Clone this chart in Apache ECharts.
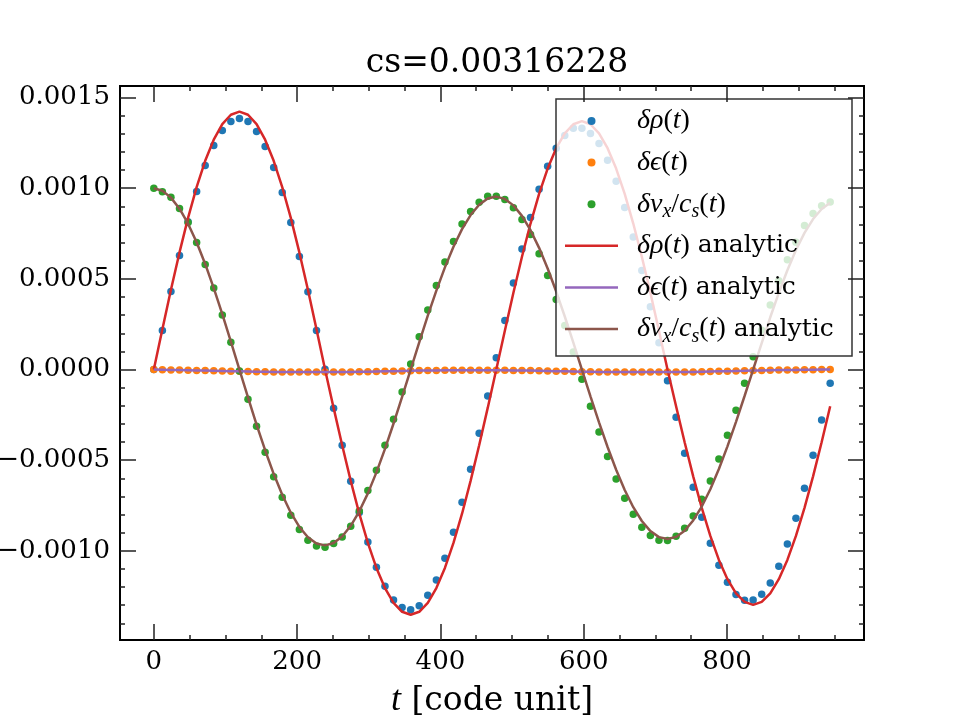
<!DOCTYPE html>
<html>
<head>
<meta charset="utf-8">
<script src="https://cdn.jsdelivr.net/npm/echarts@6/dist/echarts.min.js"></script>
<style>
html, body { margin: 0; padding: 0; background: #fff; }
#chart { width: 960px; height: 720px; }
</style>
</head>
<body>
<div id="chart"></div>
<script>
// time of each snapshot [code unit]
var tVals = [0, 11.95, 23.9, 35.85, 47.8, 59.75, 71.7, 83.65, 95.6, 107.55,
    119.5, 131.45, 143.4, 155.35, 167.3, 179.25, 191.2, 203.15, 215.1, 227.05,
    239, 250.95, 262.9, 274.85, 286.8, 298.75, 310.7, 322.65, 334.6, 346.55,
    358.5, 370.45, 382.4, 394.35, 406.3, 418.25, 430.2, 442.15, 454.1, 466.05,
    478, 489.95, 501.9, 513.85, 525.8, 537.75, 549.7, 561.65, 573.6, 585.55,
    597.5, 609.45, 621.4, 633.35, 645.3, 657.25, 669.2, 681.15, 693.1, 705.05,
    717, 728.95, 740.9, 752.85, 764.8, 776.75, 788.7, 800.65, 812.6, 824.55,
    836.5, 848.45, 860.4, 872.35, 884.3, 896.25, 908.2, 920.15, 932.1, 944.05];

// simulation
var rhoSim = [0, 0.0002159, 0.0004309, 0.0006294, 0.000815, 0.0009822, 0.0011255, 0.0012358, 0.0013185, 0.0013681,
    0.0013846, 0.0013681, 0.0013129, 0.0012303, 0.0011145, 0.0009767, 0.0008113, 0.0006239, 0.0004291, 0.0002159,
    0.0000015, -0.0002141, -0.000418, -0.0006165, -0.0007892, -0.0009509, -0.0010906, -0.0011953, -0.0012707, -0.0013129,
    -0.0013258, -0.0013037, -0.0012449, -0.0011604, -0.001041, -0.0008977, -0.0007323, -0.0005503, -0.0003519, -0.0001461,
    0.0000652, 0.0002711, 0.0004769, 0.0006643, 0.0008389, 0.000995, 0.0011218, 0.0012211, 0.0012909, 0.0013313,
    0.0013313, 0.0013019, 0.0012468, 0.0011549, 0.0010391, 0.000894, 0.0007304, 0.0005467, 0.0003464, 0.0001479,
    -0.0000616, -0.0002637, -0.0004621, -0.0006496, -0.000815, -0.0009583, -0.0010796, -0.0011733, -0.0012413, -0.0012725,
    -0.0012707, -0.0012394, -0.001177, -0.0010851, -0.000962, -0.0008205, -0.0006551, -0.0004732, -0.0002784, -0.0000762];

var epsSim = [0, -0.000001, -0.000002, -0.000003, -0.000004, -0.000005, -0.000006, -0.000007, -0.000008, -0.000009,
    -0.00001, -0.000011, -0.000012, -0.000012, -0.000013, -0.000013, -0.000014, -0.000014, -0.000014, -0.000014,
    -0.000014, -0.000014, -0.000013, -0.000013, -0.000012, -0.000012, -0.000011, -0.00001, -0.000009, -0.000008,
    -0.000007, -0.000006, -0.000005, -0.000005, -0.000004, -0.000004, -0.000004, -0.000004, -0.000004, -0.000004,
    -0.000004, -0.000004, -0.000005, -0.000005, -0.000006, -0.000007, -0.000008, -0.000009, -0.00001, -0.000011,
    -0.000012, -0.000012, -0.000013, -0.000013, -0.000014, -0.000014, -0.000014, -0.000014, -0.000014, -0.000014,
    -0.000014, -0.000014, -0.000013, -0.000013, -0.000012, -0.000011, -0.00001, -0.000009, -0.000008, -0.000007,
    -0.000006, -0.000005, -0.000004, -0.000003, -0.000002, -0.000002, -0.000001, -0.000001, 0, 0];

var vxSim = [0.001, 0.0009803, 0.0009509, 0.0008885, 0.0008113, 0.000701, 0.0005798, 0.0004493, 0.0003004, 0.0001498,
    -0.0000083, -0.0001645, -0.0003133, -0.0004566, -0.0005908, -0.0007047, -0.0008039, -0.000883, -0.0009417, -0.000973,
    -0.0009803, -0.0009601, -0.0009234, -0.0008646, -0.00078, -0.000667, -0.0005559, -0.000418, -0.0002747, -0.000124,
    0.000031, 0.000181, 0.000328, 0.000464, 0.0005926, 0.0007065, 0.0008021, 0.0008719, 0.0009234, 0.0009565,
    0.0009565, 0.0009381, 0.0008921, 0.0008278, 0.0007451, 0.0006385, 0.0005191, 0.0003868, 0.0002435, 0.0000965,
    -0.0000542, -0.000203, -0.0003445, -0.0004796, -0.0006036, -0.0007102, -0.0007984, -0.0008701, -0.000916, -0.0009417,
    -0.0009436, -0.0009197, -0.0008756, -0.0008076, -0.0007157, -0.0006147, -0.0004934, -0.0003629, -0.0002251, -0.0000762,
    0.0000707, 0.000216, 0.0003556, 0.00049, 0.000605, 0.000702, 0.000794, 0.00086, 0.000904, 0.0009243];

// analytic
var rhoAna = [0, 0.0002226, 0.0004397, 0.000646, 0.0008364, 0.0010062, 0.0011512, 0.0012679, 0.0013534, 0.0014055,
    0.001423, 0.0014055, 0.0013534, 0.0012679, 0.0011512, 0.0010062, 0.0008364, 0.000646, 0.0004397, 0.0002226,
    0, -0.0002117, -0.0004181, -0.0006142, -0.0007953, -0.0009567, -0.0010946, -0.0012055, -0.0012868, -0.0013363,
    -0.001353, -0.0013363, -0.0012868, -0.0012055, -0.0010946, -0.0009567, -0.0007953, -0.0006142, -0.0004181, -0.0002117,
    0, 0.0002143, 0.0004234, 0.000622, 0.0008053, 0.0009687, 0.0011084, 0.0012207, 0.001303, 0.0013531,
    0.00137, 0.0013531, 0.001303, 0.0012207, 0.0011084, 0.0009687, 0.0008053, 0.000622, 0.0004234, 0.0002143,
    0, -0.000203, -0.0004011, -0.0005893, -0.000763, -0.0009178, -0.0010501, -0.0011565, -0.0012345, -0.001282,
    -0.001298, -0.001282, -0.0012345, -0.0011565, -0.0010501, -0.0009178, -0.000763, -0.0005893, -0.0004011, -0.000203];

var epsAna = [0, -0.000001, -0.000002, -0.000003, -0.000004, -0.000005, -0.000006, -0.000007, -0.000008, -0.000009,
    -0.00001, -0.000011, -0.000012, -0.000012, -0.000013, -0.000013, -0.000014, -0.000014, -0.000014, -0.000014,
    -0.000014, -0.000014, -0.000013, -0.000013, -0.000012, -0.000012, -0.000011, -0.00001, -0.000009, -0.000008,
    -0.000007, -0.000006, -0.000005, -0.000005, -0.000004, -0.000004, -0.000004, -0.000004, -0.000004, -0.000004,
    -0.000004, -0.000004, -0.000005, -0.000005, -0.000006, -0.000007, -0.000008, -0.000009, -0.00001, -0.000011,
    -0.000012, -0.000012, -0.000013, -0.000013, -0.000014, -0.000014, -0.000014, -0.000014, -0.000014, -0.000014,
    -0.000014, -0.000014, -0.000013, -0.000013, -0.000012, -0.000011, -0.00001, -0.000009, -0.000008, -0.000007,
    -0.000006, -0.000005, -0.000004, -0.000003, -0.000002, -0.000002, -0.000001, -0.000001, 0, 0];

var vxAna = [0.001, 0.0009862, 0.0009482, 0.000887, 0.0008042, 0.0007018, 0.0005825, 0.0004492, 0.0003053, 0.0001543,
    0, -0.0001539, -0.0003035, -0.0004451, -0.0005754, -0.0006912, -0.0007896, -0.0008683, -0.0009254, -0.0009595,
    -0.00097, -0.0009573, -0.000921, -0.0008621, -0.0007822, -0.0006831, -0.0005673, -0.0004378, -0.0002978, -0.0001506,
    0, 0.0001504, 0.0002968, 0.0004356, 0.0005636, 0.0006774, 0.0007744, 0.0008522, 0.0009088, 0.000943,
    0.000954, 0.0009413, 0.0009055, 0.0008475, 0.0007687, 0.0006712, 0.0005574, 0.0004301, 0.0002925, 0.0001479,
    0, -0.0001476, -0.0002913, -0.0004275, -0.0005529, -0.0006645, -0.0007595, -0.0008356, -0.0008911, -0.0009244,
    -0.000935, -0.0009233, -0.0008889, -0.0008326, -0.0007558, -0.0006604, -0.0005489, -0.0004238, -0.0002884, -0.000146,
    0, 0.0001459, 0.0002882, 0.0004233, 0.0005479, 0.000659, 0.0007538, 0.0008301, 0.0008858, 0.0009197];

var xMajor = [0, 200, 400, 600, 800];
var xMinor = [50, 100, 150, 250, 300, 350, 450, 500, 550, 650, 700, 750, 850, 900, 950];
var yMajor = [-0.001, -0.0005, 0, 0.0005, 0.001, 0.0015];
var yMinor = [-0.0014, -0.0013, -0.0012, -0.0011, -0.0009, -0.0008, -0.0007, -0.0006,
    -0.0004, -0.0003, -0.0002, -0.0001, 0.0001, 0.0002, 0.0003, 0.0004,
    0.0006, 0.0007, 0.0008, 0.0009, 0.0011, 0.0012, 0.0013, 0.0014];

var X_MIN = -47.2, X_MAX = 991.25;
var Y_MIN = -0.001492, Y_MAX = 0.001564;
var FONT = 'DejaVu Serif';
var MATH = 'Liberation Serif';

function pairs(ys) {
    return tVals.map(function (t, i) { return [t, ys[i]]; });
}

function xAx(pos, ticks, len, labels) {
    return {
        type: 'value', gridIndex: 0, position: pos, min: X_MIN, max: X_MAX, z: 10,
        axisLine: { show: true, onZero: false, lineStyle: { color: '#000', width: 1.8 } },
        axisTick: { show: true, inside: true, length: len, customValues: ticks,
            lineStyle: { color: '#222', width: 1.5 } },
        axisLabel: { show: labels, customValues: ticks, margin: 9,
            fontFamily: FONT, fontSize: 26, color: '#000' },
        splitLine: { show: false }
    };
}

function yAx(pos, ticks, len, labels) {
    return {
        type: 'value', gridIndex: 0, position: pos, min: Y_MIN, max: Y_MAX, z: 10,
        axisLine: { show: true, onZero: false, lineStyle: { color: '#000', width: 1.8 } },
        axisTick: { show: true, inside: true, length: len, customValues: ticks,
            lineStyle: { color: '#222', width: 1.5 } },
        axisLabel: { show: labels, customValues: ticks, margin: 10,
            fontFamily: FONT, fontSize: 26, color: '#000',
            formatter: function (v) {
                return (v < -1e-12 ? '\u2212' : '') + Math.abs(v).toFixed(4);
            } },
        splitLine: { show: false }
    };
}

var xAxes = [xAx('bottom', xMajor, 16, true), xAx('top', xMajor, 16, false),
             xAx('bottom', xMinor, 5, false), xAx('top', xMinor, 5, false)];
xAxes[0].name = '{i|t} [code unit]';
xAxes[0].nameLocation = 'middle';
xAxes[0].nameGap = 43;
xAxes[0].nameTextStyle = { fontFamily: FONT, fontSize: 33, color: '#000',
    rich: { i: { fontFamily: MATH, fontStyle: 'italic', fontSize: 36, color: '#000' } } };

var yAxes = [yAx('left', yMajor, 16, true), yAx('right', yMajor, 16, false),
             yAx('left', yMinor, 5, false), yAx('right', yMinor, 5, false)];

var legendText = {
    'rho': '{sp|}{h|}{m|δρ}{n|(}{m|t}{n|)}',
    'eps': '{sp|}{h|}{m|δϵ}{n|(}{m|t}{n|)}',
    'vx': '{sp|}{h|}{m|δv}{b|x}{n|/}{m|c}{b|s}{n|(}{m|t}{n|)}',
    'rho analytic': '{sp|}{h|}{m|δρ}{n|(}{m|t}{n|)}{a| analytic}',
    'eps analytic': '{sp|}{h|}{m|δϵ}{n|(}{m|t}{n|)}{a| analytic}',
    'vx analytic': '{sp|}{h|}{m|δv}{b|x}{n|/}{m|c}{b|s}{n|(}{m|t}{n|)}{a| analytic}'
};

var lineIcon = 'path://M0,0 L53,0 L53,2.5 L0,2.5 Z';

var myChart = echarts.init(document.getElementById('chart'));

var option = {
    animation: false,
    backgroundColor: '#fff',
    title: {
        text: 'cs=0.00316228',
        left: 492, top: 42, textAlign: 'center',
        textStyle: { fontFamily: FONT, fontSize: 33, fontWeight: 'normal', color: '#000' }
    },
    grid: { left: 120, top: 86, width: 744, height: 554, outerBoundsMode: 'none' },
    xAxis: xAxes,
    yAxis: yAxes,
    graphic: [{
        type: 'rect', z: 5,
        shape: { x: 556, y: 99, width: 296, height: 257 },
        style: { fill: 'rgba(255,255,255,0.8)', stroke: '#333', lineWidth: 1.5 }
    }],
    legend: {
        orient: 'vertical', left: 565, top: 103, padding: 0, z: 6,
        itemWidth: 53, itemHeight: 8, itemGap: 5.6, selectedMode: false,
        data: [
            { name: 'rho', icon: 'circle' },
            { name: 'eps', icon: 'circle' },
            { name: 'vx', icon: 'circle' },
            { name: 'rho analytic', icon: lineIcon },
            { name: 'eps analytic', icon: lineIcon },
            { name: 'vx analytic', icon: lineIcon }
        ],
        formatter: function (name) { return legendText[name]; },
        textStyle: {
            color: '#000', fontFamily: FONT, fontSize: 25,
            rich: {
                sp: { width: 14 },
                h: { width: 0, height: 36, lineHeight: 36 },
                m: { fontFamily: MATH, fontStyle: 'italic', fontSize: 28, color: '#000' },
                n: { fontFamily: MATH, fontSize: 28, color: '#000' },
                a: { fontFamily: FONT, fontSize: 25, color: '#000' },
                b: { fontFamily: MATH, fontStyle: 'italic', fontSize: 20, lineHeight: 20,
                     padding: [16, 0, 0, 0], color: '#000' }
            }
        }
    },
    series: [
        { name: 'rho', type: 'scatter', data: pairs(rhoSim), symbolSize: 7.5,
          itemStyle: { color: '#1f77b4', opacity: 1 } },
        { name: 'eps', type: 'scatter', data: pairs(epsSim), symbolSize: 7.5,
          itemStyle: { color: '#ff7f0e', opacity: 1 } },
        { name: 'vx', type: 'scatter', data: pairs(vxSim), symbolSize: 7.5,
          itemStyle: { color: '#2ca02c', opacity: 1 } },
        { name: 'rho analytic', type: 'line', data: pairs(rhoAna), symbol: 'none',
          lineStyle: { color: '#d62728', width: 2.5 }, itemStyle: { color: '#d62728' } },
        { name: 'eps analytic', type: 'line', data: pairs(epsAna), symbol: 'none',
          lineStyle: { color: '#9467bd', width: 2.5 }, itemStyle: { color: '#9467bd' } },
        { name: 'vx analytic', type: 'line', data: pairs(vxAna), symbol: 'none',
          lineStyle: { color: '#8c564b', width: 2.5 }, itemStyle: { color: '#8c564b' } }
    ]
};

myChart.setOption(option, true);
</script>
</body>
</html>
